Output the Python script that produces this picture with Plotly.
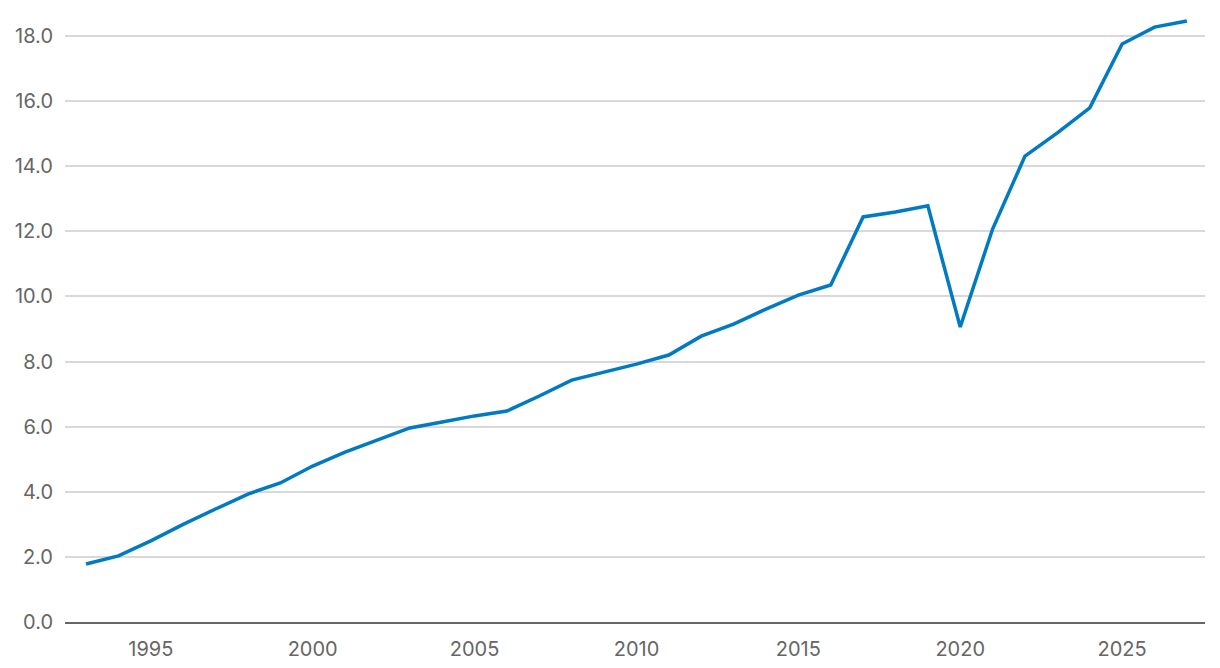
import plotly.graph_objects as go

years = list(range(1993, 2028))
values = [1.78, 2.03, 2.49, 3.0, 3.47, 3.93, 4.27, 4.79, 5.22, 5.59, 5.96, 6.14, 6.33, 6.48,
          6.94, 7.43, 7.68, 7.92, 8.2, 8.78, 9.15, 9.61, 10.04, 10.35, 12.44, 12.59, 12.78,
          9.06, 12.07, 14.31, 15.02, 15.79, 17.75, 18.27, 18.46]
x_ticks = [1995, 2000, 2005, 2010, 2015, 2020, 2025]
y_ticks = [0, 2, 4, 6, 8, 10, 12, 14, 16, 18]

fig = go.Figure(go.Scatter(x=years, y=values, mode="lines",
                           line=dict(color="#007ac2", width=3.5), hoverinfo="x+y"))

font = dict(family="Inter, Lato, sans-serif", size=20, color="#666666")
fig.update_layout(
    width=1220, height=668,
    margin=dict(l=65, r=15, t=5, b=46),
    paper_bgcolor="white", plot_bgcolor="white",
    showlegend=False,
    font=font,
    xaxis=dict(range=[1992.35, 2027.56], tickvals=x_ticks, ticktext=[str(t) for t in x_ticks],
               showgrid=False, showline=True, linecolor="#666666", linewidth=2,
               ticks="", zeroline=False, tickfont=font, ticklabelstandoff=8),
    yaxis=dict(range=[0, 18.95], tickvals=y_ticks, ticktext=[f"{t:.1f}" for t in y_ticks],
               showgrid=True, gridcolor="#d9d9d9", gridwidth=1.5, zeroline=False,
               ticks="", ticklabelstandoff=11, tickfont=font),
)
fig.write_html("out.html")
